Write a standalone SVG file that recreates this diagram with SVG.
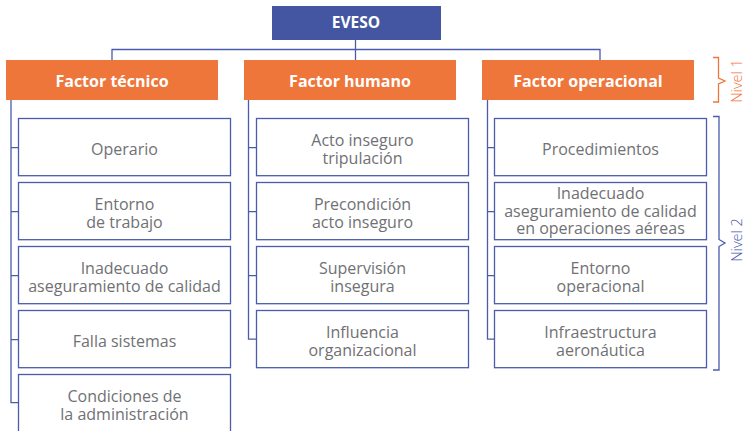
<svg xmlns="http://www.w3.org/2000/svg" width="744" height="431" viewBox="0 0 744 431">
<style>
.top{fill:#4456a2}
.fac{fill:#ef763b}
.sub{fill:#fff;stroke:#4a5cab;stroke-width:1.3}
.ln{fill:none;stroke:#4a5cab;stroke-width:1.3}
.ht{font-family:"Open Sans","DejaVu Sans",sans-serif;font-weight:700;fill:#fff;text-anchor:middle}
.st{font-family:"Open Sans","DejaVu Sans",sans-serif;font-size:16px;fill:#707174;text-anchor:middle}
.nv{font-family:"Open Sans","DejaVu Sans",sans-serif;font-size:14.5px;font-weight:300;text-anchor:middle}
</style>
<rect width="744" height="431" fill="#fff"/>
<g id="connectors">
<path class="ln" d="M112,60 V49.5 H600 V60 M355.5,40 V60"/>
<path class="ln" d="M11,100 V402.7 H18.5 M11,147.7 H18.5 M11,211.7 H18.5 M11,275.7 H18.5 M11,339.7 H18.5"/>
<path class="ln" d="M248.5,100 V339.2 H256.5 M248.5,147.7 H256.5 M248.5,211.7 H256.5 M248.5,275.7 H256.5"/>
<path class="ln" d="M487.5,100 V339.2 H494.5 M487.5,147.7 H494.5 M487.5,211.7 H494.5 M487.5,275.7 H494.5"/>
</g>
<g id="eveso"><rect class="top" x="272" y="6" width="169" height="34"/><text class="ht" x="356" y="27.5" font-size="15.5">EVESO</text></g>
<g id="factor-tecnico"><rect class="fac" x="6" y="60" width="212" height="40"/><text class="ht" x="112" y="87" font-size="16">Factor técnico</text></g>
<g id="factor-humano"><rect class="fac" x="244" y="60" width="212" height="40"/><text class="ht" x="350" y="87" font-size="16">Factor humano</text></g>
<g id="factor-operacional"><rect class="fac" x="482" y="60" width="212" height="40"/><text class="ht" x="588" y="87" font-size="16">Factor operacional</text></g>

<g id="t1"><rect class="sub" x="18.5" y="118.5" width="212" height="57.2"/><text class="st" x="124.5" y="155">Operario</text></g>
<g id="t2"><rect class="sub" x="18.5" y="182.5" width="212" height="57.2"/><text class="st" x="124.5" y="210">Entorno</text><text class="st" x="124.5" y="228.3">de trabajo</text></g>
<g id="t3"><rect class="sub" x="18.5" y="246.5" width="212" height="57.2"/><text class="st" x="124.5" y="274">Inadecuado</text><text class="st" x="124.5" y="292.3">aseguramiento de calidad</text></g>
<g id="t4"><rect class="sub" x="18.5" y="310.5" width="212" height="57.2"/><text class="st" x="124.5" y="347">Falla sistemas</text></g>
<g id="t5"><rect class="sub" x="18.5" y="374.5" width="212" height="70"/><text class="st" x="124.5" y="402">Condiciones de</text><text class="st" x="124.5" y="420.3">la administración</text></g>

<g id="h1"><rect class="sub" x="256.5" y="118.5" width="212" height="57.2"/><text class="st" x="362.5" y="146">Acto inseguro</text><text class="st" x="362.5" y="164.3">tripulación</text></g>
<g id="h2"><rect class="sub" x="256.5" y="182.5" width="212" height="57.2"/><text class="st" x="362.5" y="210">Precondición</text><text class="st" x="362.5" y="228.3">acto inseguro</text></g>
<g id="h3"><rect class="sub" x="256.5" y="246.5" width="212" height="57.2"/><text class="st" x="362.5" y="274">Supervisión</text><text class="st" x="362.5" y="292.3">insegura</text></g>
<g id="h4"><rect class="sub" x="256.5" y="310.5" width="212" height="57.2"/><text class="st" x="362.5" y="338">Influencia</text><text class="st" x="362.5" y="356.3">organizacional</text></g>

<g id="o1"><rect class="sub" x="494.5" y="118.5" width="212" height="57.2"/><text class="st" x="600.5" y="155">Procedimientos</text></g>
<g id="o2"><rect class="sub" x="494.5" y="182.5" width="212" height="57.2"/><text class="st" x="600.5" y="199.3">Inadecuado</text><text class="st" x="600.5" y="216.5">aseguramiento de calidad</text><text class="st" x="600.5" y="233.5">en operaciones aéreas</text></g>
<g id="o3"><rect class="sub" x="494.5" y="246.5" width="212" height="57.2"/><text class="st" x="600.5" y="274">Entorno</text><text class="st" x="600.5" y="292.3">operacional</text></g>
<g id="o4"><rect class="sub" x="494.5" y="310.5" width="212" height="57.2"/><text class="st" x="600.5" y="338">Infraestructura</text><text class="st" x="600.5" y="356.3">aeronáutica</text></g>

<g id="nivel-1">
<path d="M713,57.5 H718.5 V78 L725,81 L718.5,84 V102 H713" fill="none" stroke="#ef763b" stroke-width="1.3"/>
<text class="nv" fill="#ef763b" transform="translate(742,81) rotate(-90)">Nivel 1</text>
</g>
<g id="nivel-2">
<path d="M713,116.5 H719 V239.5 L725,243 L719,246.5 V370 H713" fill="none" stroke="#4a5cab" stroke-width="1.3"/>
<text class="nv" fill="#4a5cab" transform="translate(742,240) rotate(-90)">Nivel 2</text>
</g>
</svg>
